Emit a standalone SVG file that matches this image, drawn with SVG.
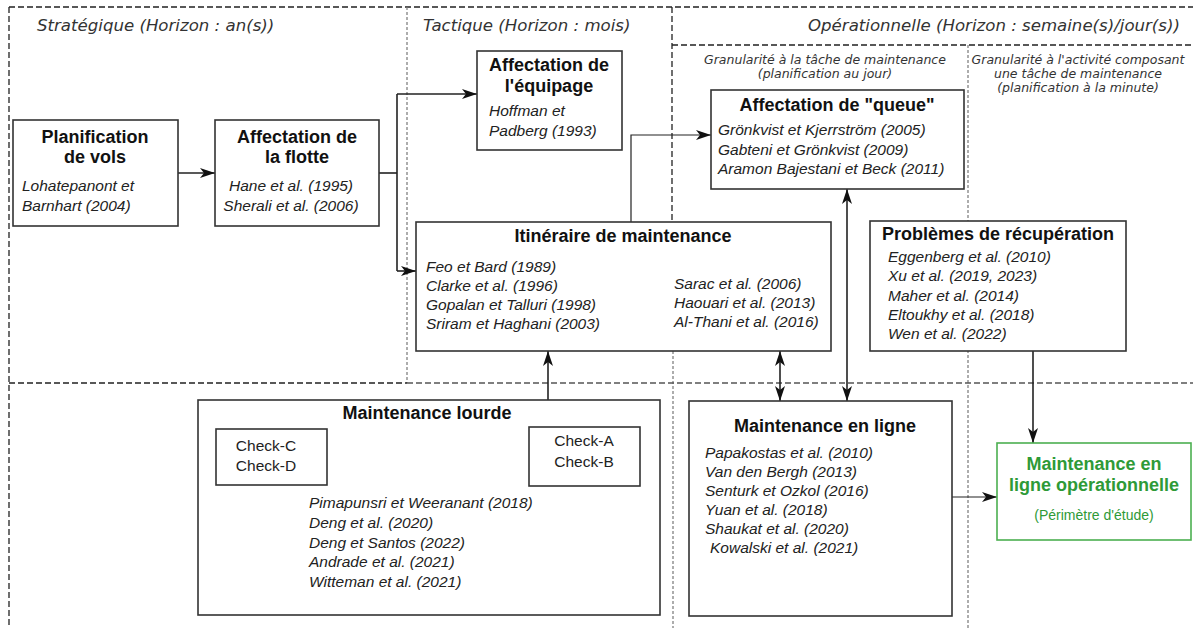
<svg xmlns="http://www.w3.org/2000/svg" width="1193" height="628" viewBox="0 0 1193 628">
<defs>
<style>
.hdr{font-family:"DejaVu Sans",Verdana,sans-serif;font-style:italic;font-size:16.6px;fill:#333}
.gran{font-family:"DejaVu Sans",Verdana,sans-serif;font-style:italic;font-size:12.5px;fill:#333}
.ttl{font-family:"Liberation Sans",Arial,sans-serif;font-weight:bold;font-size:18px;fill:#111}
.cit{font-family:"Liberation Sans",Arial,sans-serif;font-style:italic;font-size:15.5px;fill:#222}
.reg{font-family:"Liberation Sans",Arial,sans-serif;font-size:15.5px;fill:#222}
.box{fill:#fff;stroke:#333;stroke-width:1.6}
.dk{fill:none;stroke:#222;stroke-width:1.3;stroke-dasharray:6 3}
.gy{fill:none;stroke:#777;stroke-width:1.2;stroke-dasharray:3 2}
.con{fill:none;stroke:#222;stroke-width:1.6}
.green{fill:#2e9a37}
</style>
<marker id="ah" markerUnits="userSpaceOnUse" markerWidth="16" markerHeight="10" refX="15" refY="5" orient="auto-start-reverse">
<path d="M0,0 L15,5 L0,10 L4,5 z" fill="#111"/>
</marker>
</defs>

<g id="frame">
<line class="dk" x1="9" y1="7" x2="1193" y2="7"/>
<line class="dk" x1="9" y1="7" x2="9" y2="628"/>
<line class="gy" x1="407" y1="7" x2="407" y2="383"/>
<line class="dk" x1="672" y1="7" x2="672" y2="222"/>
<line class="gy" x1="673" y1="351" x2="673" y2="628"/>
<line class="dk" x1="672" y1="45" x2="1193" y2="45"/>
<line class="gy" x1="968" y1="45" x2="968" y2="628"/>
<line class="dk" x1="9" y1="383" x2="407" y2="383"/>
<line class="dk" x1="407" y1="383" x2="1193" y2="383" style="stroke:#555"/>
</g>

<g id="headers">
<text class="hdr" x="37" y="31">Stratégique (Horizon : an(s))</text>
<text class="hdr" x="423" y="31">Tactique (Horizon : mois)</text>
<text class="hdr" x="808" y="31">Opérationnelle (Horizon : semaine(s)/jour(s))</text>
<text class="gran" x="825" y="64" text-anchor="middle">Granularité à la tâche de maintenance</text>
<text class="gran" x="825" y="78" text-anchor="middle">(planification au jour)</text>
<text class="gran" x="1078" y="64" text-anchor="middle">Granularité à l'activité composant</text>
<text class="gran" x="1078" y="78" text-anchor="middle">une tâche de maintenance</text>
<text class="gran" x="1078" y="92" text-anchor="middle">(planification à la minute)</text>
</g>

<g id="connectors">
<line class="con" x1="178" y1="173" x2="215" y2="173" marker-end="url(#ah)"/>
<polyline class="con" points="379,173 397,173"/>
<line class="con" x1="397" y1="94" x2="397" y2="271"/>
<line class="con" x1="397" y1="94" x2="477" y2="94" marker-end="url(#ah)"/>
<line class="con" x1="397" y1="271" x2="416" y2="271" marker-end="url(#ah)"/>
<polyline class="con" points="631,222 631,135 711,135" style="stroke-width:1.2" marker-end="url(#ah)"/>
<line class="con" x1="847" y1="189" x2="847" y2="401" marker-start="url(#ah)" marker-end="url(#ah)"/>
<line class="con" x1="780" y1="351" x2="780" y2="401" marker-start="url(#ah)" marker-end="url(#ah)"/>
<line class="con" x1="548" y1="400" x2="548" y2="351" marker-end="url(#ah)"/>
<line class="con" x1="1033" y1="351" x2="1033" y2="443" marker-end="url(#ah)"/>
<line class="con" x1="952" y1="497" x2="997" y2="497" style="stroke-width:1.2" marker-end="url(#ah)"/>
</g>

<g id="planification-vols">
<rect class="box" x="13" y="120" width="165" height="106"/>
<text class="ttl" x="95" y="143" text-anchor="middle">Planification</text>
<text class="ttl" x="95" y="163" text-anchor="middle">de vols</text>
<text class="cit" x="22" y="191">Lohatepanont et</text>
<text class="cit" x="22" y="211">Barnhart (2004)</text>
</g>

<g id="affectation-flotte">
<rect class="box" x="215" y="120" width="164" height="106"/>
<text class="ttl" x="297" y="143" text-anchor="middle">Affectation de</text>
<text class="ttl" x="297" y="163" text-anchor="middle">la flotte</text>
<text class="cit" x="291" y="191" text-anchor="middle">Hane et al. (1995)</text>
<text class="cit" x="291" y="211" text-anchor="middle">Sherali et al. (2006)</text>
</g>

<g id="affectation-equipage">
<rect class="box" x="477" y="51" width="145" height="99"/>
<text class="ttl" x="549" y="71" text-anchor="middle">Affectation de</text>
<text class="ttl" x="549" y="92" text-anchor="middle">l'équipage</text>
<text class="cit" x="489" y="116">Hoffman et</text>
<text class="cit" x="489" y="136">Padberg (1993)</text>
</g>

<g id="affectation-queue">
<rect class="box" x="711" y="90" width="253" height="99"/>
<text class="ttl" x="837" y="111" text-anchor="middle">Affectation de "queue"</text>
<text class="cit" x="718" y="135">Grönkvist et Kjerrström (2005)</text>
<text class="cit" x="718" y="155">Gabteni et Grönkvist (2009)</text>
<text class="cit" x="718" y="174">Aramon Bajestani et Beck (2011)</text>
</g>

<g id="itineraire-maintenance">
<rect class="box" x="416" y="222" width="415" height="129"/>
<text class="ttl" x="623" y="242" text-anchor="middle">Itinéraire de maintenance</text>
<text class="cit" x="426" y="272">Feo et Bard (1989)</text>
<text class="cit" x="426" y="291">Clarke et al. (1996)</text>
<text class="cit" x="426" y="310">Gopalan et Talluri (1998)</text>
<text class="cit" x="426" y="329">Sriram et Haghani (2003)</text>
<text class="cit" x="674" y="289">Sarac et al. (2006)</text>
<text class="cit" x="674" y="308">Haouari et al. (2013)</text>
<text class="cit" x="674" y="327">Al-Thani et al. (2016)</text>
</g>

<g id="problemes-recuperation">
<rect class="box" x="870" y="221" width="256" height="130"/>
<text class="ttl" x="998" y="240" text-anchor="middle">Problèmes de récupération</text>
<text class="cit" x="888" y="262">Eggenberg et al. (2010)</text>
<text class="cit" x="888" y="281">Xu et al. (2019, 2023)</text>
<text class="cit" x="888" y="301">Maher et al. (2014)</text>
<text class="cit" x="888" y="320">Eltoukhy et al. (2018)</text>
<text class="cit" x="888" y="339">Wen et al. (2022)</text>
</g>

<g id="maintenance-lourde">
<rect class="box" x="198" y="400" width="462" height="215"/>
<text class="ttl" x="427" y="419" text-anchor="middle">Maintenance lourde</text>
<rect class="box" x="216" y="429" width="111" height="56"/>
<text class="reg" x="266" y="451" text-anchor="middle">Check-C</text>
<text class="reg" x="266" y="471" text-anchor="middle">Check-D</text>
<rect class="box" x="529" y="427" width="111" height="59"/>
<text class="reg" x="584" y="446" text-anchor="middle">Check-A</text>
<text class="reg" x="584" y="467" text-anchor="middle">Check-B</text>
<text class="cit" x="309" y="508">Pimapunsri et Weeranant (2018)</text>
<text class="cit" x="309" y="528">Deng et al. (2020)</text>
<text class="cit" x="309" y="548">Deng et Santos (2022)</text>
<text class="cit" x="309" y="567">Andrade et al. (2021)</text>
<text class="cit" x="309" y="587">Witteman et al. (2021)</text>
</g>

<g id="maintenance-en-ligne">
<rect class="box" x="689" y="401" width="263" height="215"/>
<text class="ttl" x="825" y="432" text-anchor="middle">Maintenance en ligne</text>
<text class="cit" x="705" y="458">Papakostas et al. (2010)</text>
<text class="cit" x="705" y="477">Van den Bergh (2013)</text>
<text class="cit" x="705" y="496">Senturk et Ozkol (2016)</text>
<text class="cit" x="705" y="515">Yuan et al. (2018)</text>
<text class="cit" x="705" y="534">Shaukat et al. (2020)</text>
<text class="cit" x="710" y="553">Kowalski et al. (2021)</text>
</g>

<g id="maintenance-operationnelle">
<rect x="997" y="443" width="194" height="97" fill="#fff" stroke="#4caf50" stroke-width="1.6"/>
<text class="ttl green" x="1094" y="470" text-anchor="middle">Maintenance en</text>
<text class="ttl green" x="1094" y="491" text-anchor="middle">ligne opérationnelle</text>
<text class="reg green" x="1094" y="520" text-anchor="middle" style="font-size:14px">(Périmètre d'étude)</text>
</g>
</svg>
